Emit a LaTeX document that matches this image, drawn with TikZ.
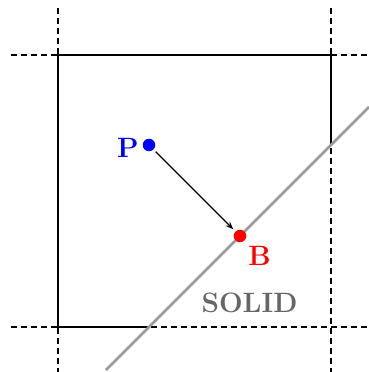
\documentclass[tikz,border=0pt]{standalone}
\usepackage{fontspec}
\usetikzlibrary{arrows.meta}
\begin{document}
\begin{tikzpicture}[x=1pt,y=-1pt,
  grid/.style={black,line width=1.3pt,dash pattern=on 6pt off 4pt},
  wall/.style={black,line width=1.5pt},
  surf/.style={gray!80,line width=2.6pt},
  dot/.style={circle,inner sep=0pt,minimum size=12.5pt},
  lab/.style={inner sep=0pt,font=\fontsize{28}{32}\selectfont\bfseries}]
\useasboundingbox (0,0) rectangle (369,372);
% dashed grid lines
\draw[grid] (58,8) -- (58,372);
\draw[grid] (331,8) -- (331,372);
\draw[grid] (11,55) -- (369,55);
\draw[grid] (11,327) -- (369,327);
% solid boundary
\coordinate (c1) at (149,327);
\coordinate (c2) at (331,145);
\draw[wall] (c1) -- (58,327) -- (58,55) -- (331,55) -- (c2);
% surface line
\coordinate (s1) at (106,370);
\coordinate (s2) at (369,107);
\draw[surf] (s1) -- (s2);
% points
\node[dot,fill=blue] (P) at (149,145) {};
\node[dot,fill=red] (B) at (240,236) {};
\draw[-{Stealth[length=8pt,width=6pt]},line width=1.1pt,shorten <=3pt,shorten >=3pt] (P) -- (B);
\node[lab,text=blue] (Pl) at (128,147.5) {P};
\node[lab,text=red] (Bl) at (259.5,255.5) {B};
\node[lab,text=black!60] (sl) at (249.5,303) {SOLID};
\end{tikzpicture}
\end{document}
